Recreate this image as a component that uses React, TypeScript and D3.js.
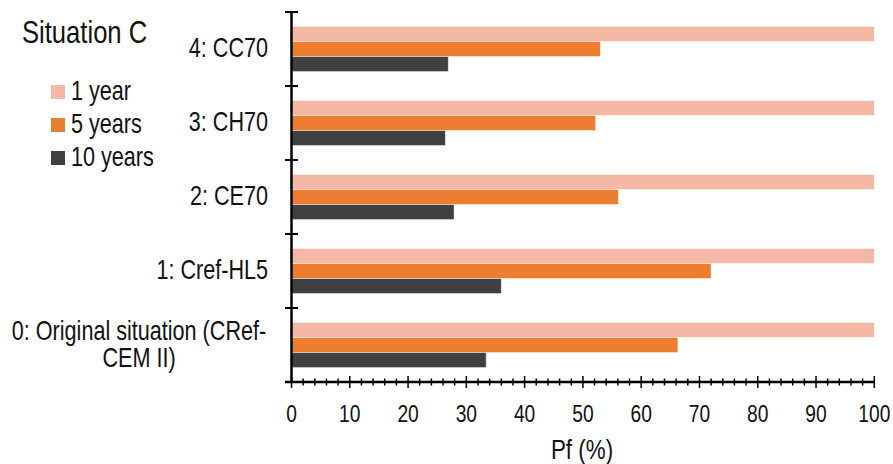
import React from "react";
import * as d3 from "d3";

const categories = ["4: CC70", "3: CH70", "2: CE70", "1: Cref-HL5", "0: Original situation (CRef-|CEM II)"];
const seriesNames = ["1 year", "5 years", "10 years"];
const year1 = [100, 100, 100, 100, 100];
const year5 = [53, 52.2, 56.1, 72, 66.3];
const year10 = [26.9, 26.4, 27.9, 36, 33.4];
const colors = ["#F4B8A4", "#ED7D31", "#404040"];
const xTicks = [0, 10, 20, 30, 40, 50, 60, 70, 80, 90, 100];

const W = 893, H = 464;
const FONT = "'Liberation Sans', Arial, sans-serif";
const SX = 0.8;

function T(props: { x: number; y: number; size: number; anchor?: string; children: React.ReactNode }) {
  const { x, y, size, anchor = "start", children } = props;
  return (
    <text transform={`translate(${x},${y}) scale(${SX},1)`} textAnchor={anchor} fontSize={size} fill="#111">
      {children}
    </text>
  );
}

export default function App() {
  const x = d3.scaleLinear().domain([0, 100]).range([291.5, 874.3]);
  const y = d3.scaleBand().domain(categories).range([12, 382]).paddingInner(0.39).paddingOuter(0.195);
  const sub = d3.scaleBand().domain(seriesNames).range([0, y.bandwidth()]);
  const series = [year1, year5, year10];
  const minor = d3.range(0, 101, 2);
  const bandEdges = d3.range(0, categories.length + 1).map((i) => 12 + (i * 370) / categories.length);

  return (
    <svg width={W} height={H} style={{ position: "absolute", left: 0, top: 0, background: "#fff" }} fontFamily={FONT}>
      {categories.map((c, ci) =>
        series.map((s, si) => (
          <rect
            key={c + si}
            x={x(0)}
            y={(y(c) as number) + (sub(seriesNames[si]) as number)}
            width={x(s[ci]) - x(0)}
            height={sub.bandwidth()}
            fill={colors[si]}
            stroke="#fff"
            strokeOpacity={0.6}
            strokeWidth={0.8}
          />
        ))
      )}
      {/* y axis */}
      <line x1={x(0)} x2={x(0)} y1={12} y2={382} stroke="#000" strokeWidth={2.5} />
      {bandEdges.map((e, i) => (
        <line key={"yt" + i} x1={285} x2={298} y1={e} y2={e} stroke="#000" strokeWidth={2} />
      ))}
      {/* x axis */}
      <line x1={285} x2={x(100)} y1={382} y2={382} stroke="#000" strokeWidth={2.5} />
      {minor.map((t) => (
        <line key={"mt" + t} x1={x(t)} x2={x(t)} y1={t % 10 === 0 ? 376 : 378.5} y2={t % 10 === 0 ? 388 : 385.5} stroke="#000" strokeWidth={1.5} />
      ))}
      {xTicks.map((t) => (
        <T key={"xl" + t} x={x(t)} y={422} size={24} anchor="middle">
          {t}
        </T>
      ))}
      <T x={582} y={459} size={28} anchor="middle">Pf (%)</T>
      {categories.map((c) => {
        const lines = c.split("|");
        const cy = (y(c) as number) + y.bandwidth() / 2;
        const lh = 27;
        const start = cy - ((lines.length - 1) * lh) / 2 + 8;
        const multi = lines.length > 1;
        return lines.map((l, li) => (
          <T key={c + li} x={multi ? 139 : 268} y={start + li * lh} size={27} anchor={multi ? "middle" : "end"}>
            {l}
          </T>
        ));
      })}
      <T x={22} y={43} size={32}>Situation C</T>
      {seriesNames.map((n, i) => (
        <g key={n}>
          <rect x={51} y={85 + i * 33} width={14} height={14} fill={colors[i]} />
          <T x={71} y={100 + i * 33} size={27}>{n}</T>
        </g>
      ))}
    </svg>
  );
}
